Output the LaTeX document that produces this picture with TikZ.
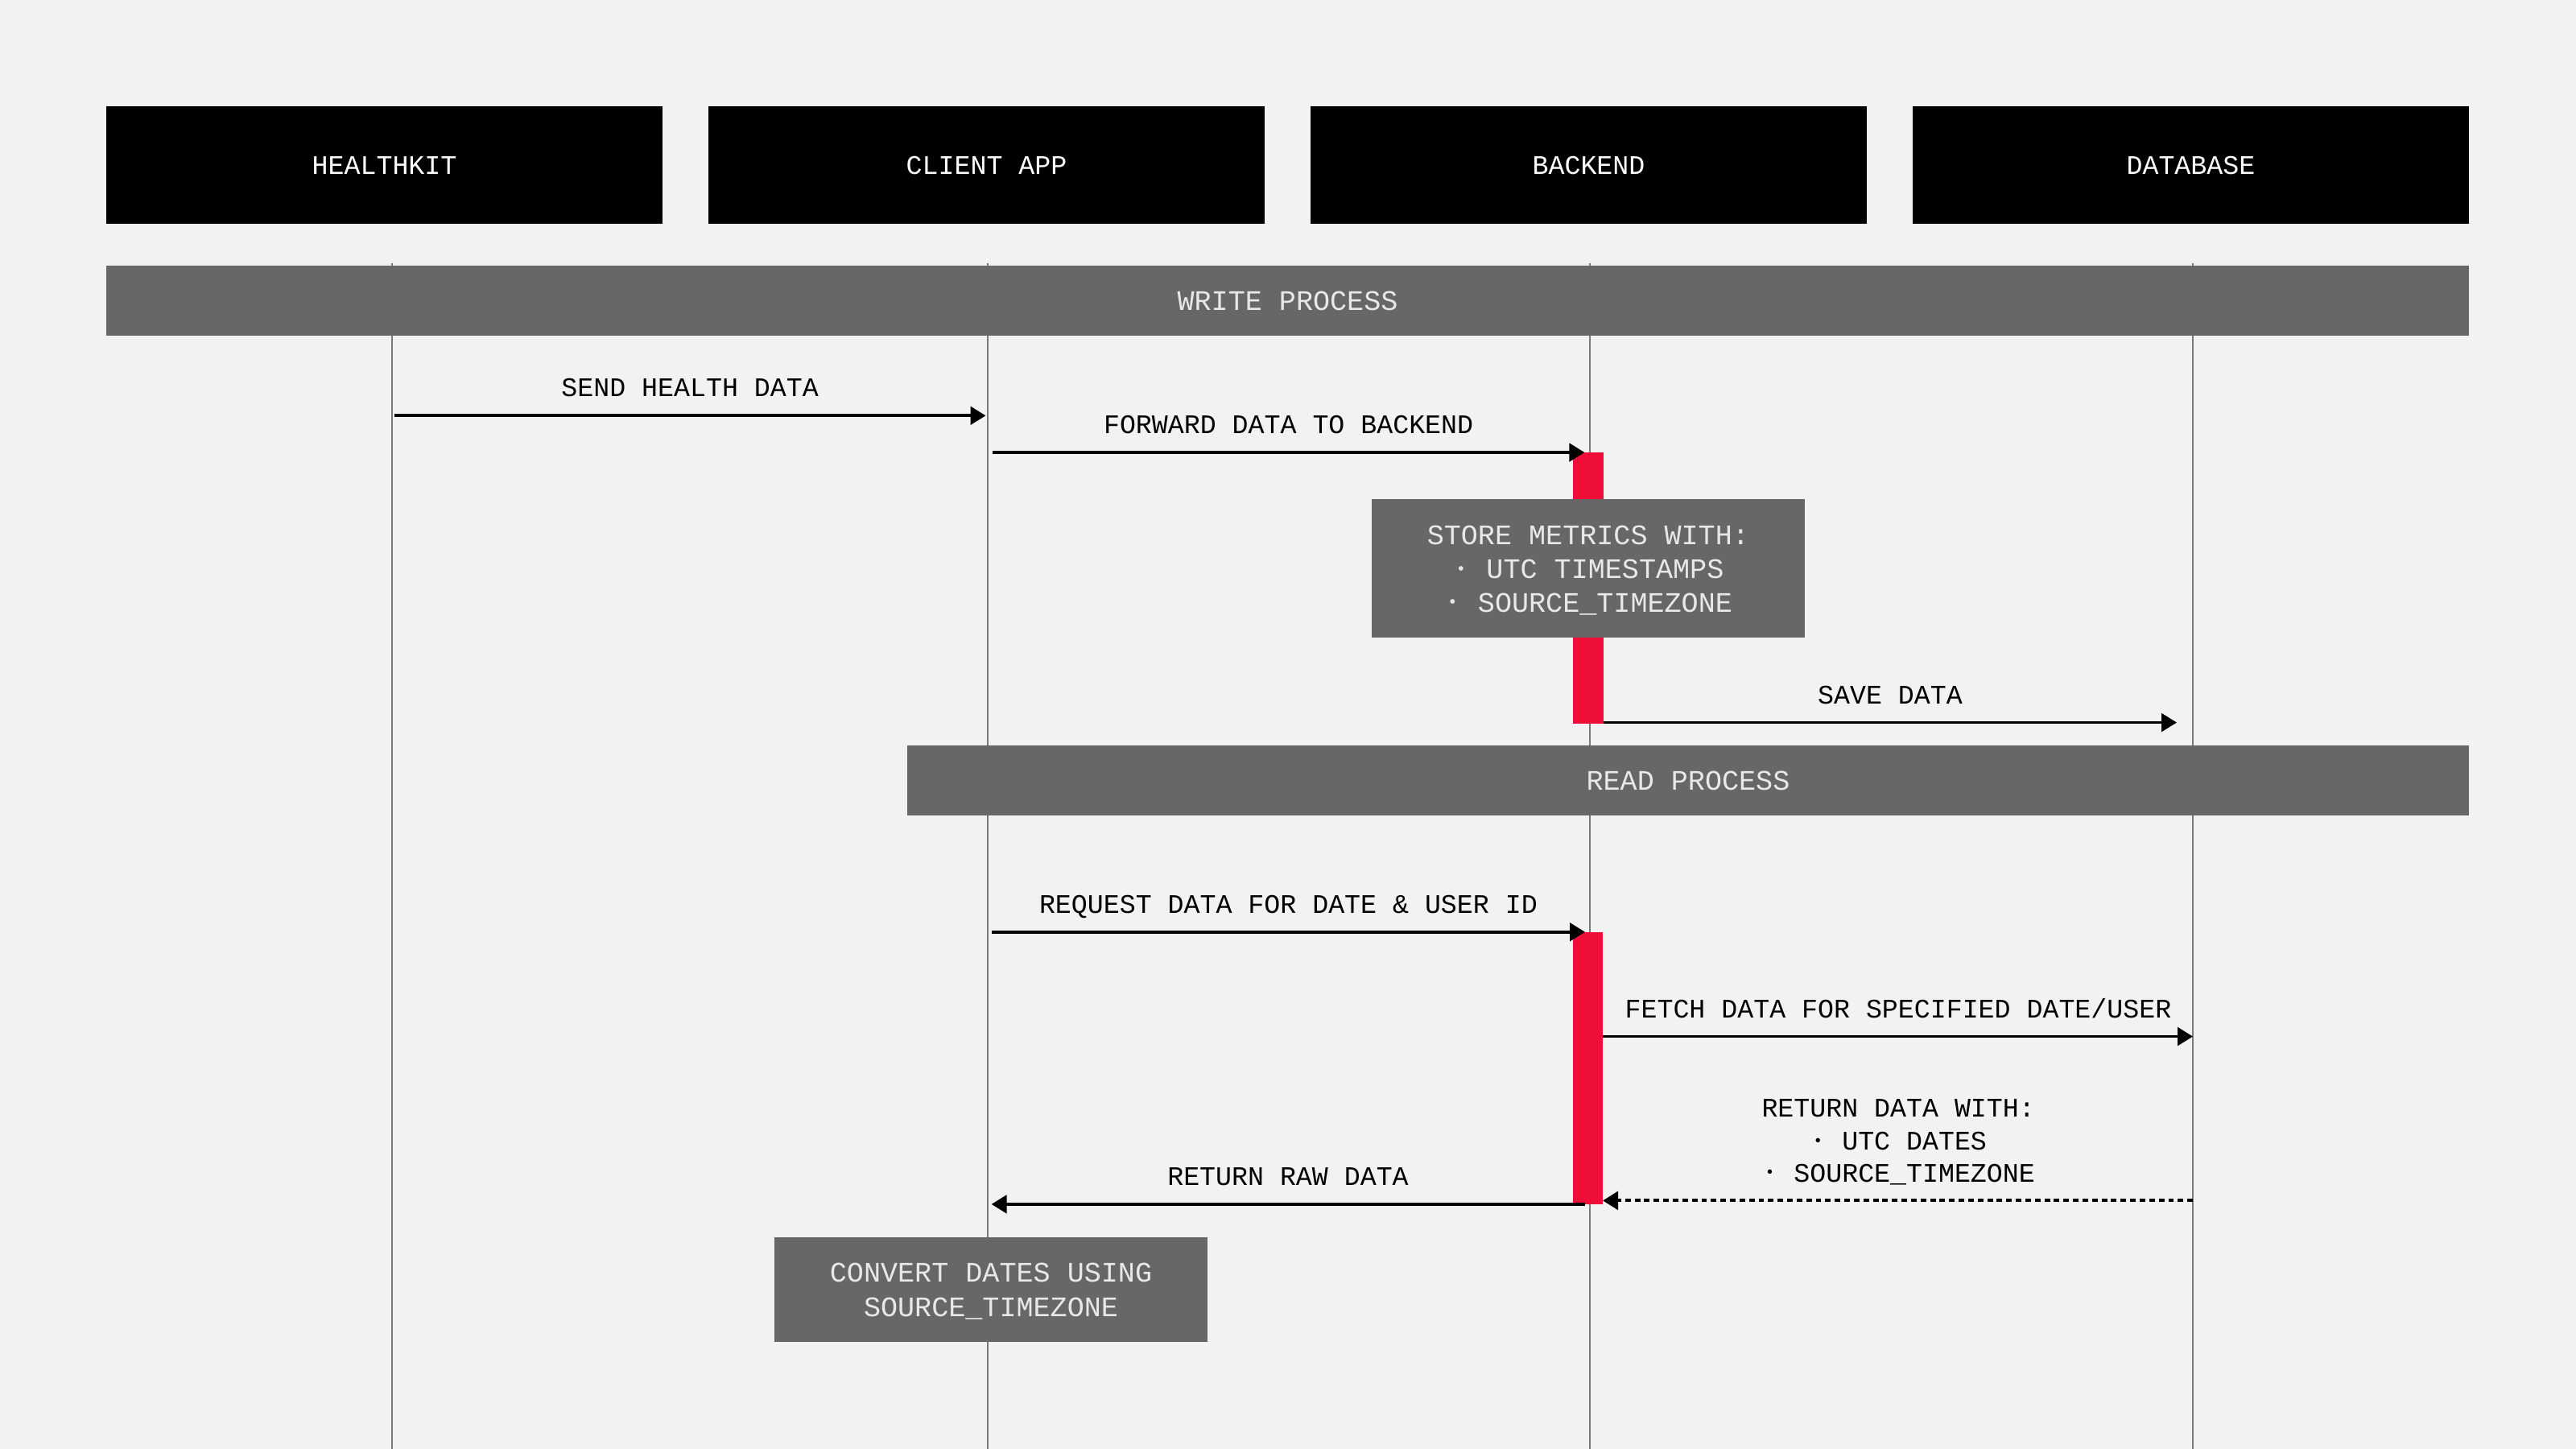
\documentclass[tikz,border=0pt]{standalone}
\usepackage{fontspec}
\usepackage{graphicx}
\setmainfont{Liberation Mono}
\usetikzlibrary{arrows.meta,calc}
\definecolor{bgc}{HTML}{F2F2F2}
\definecolor{barc}{HTML}{676767}
\definecolor{actc}{HTML}{EF0E37}
\definecolor{lifec}{HTML}{7A7A7A}
\definecolor{ltxt}{HTML}{E8E8E8}
\newcommand{\bul}{\makebox[0.6em]{\raisebox{0.16em}{\scalebox{0.6}{•}}}}
\begin{document}
\begin{tikzpicture}[x=1pt,y=-1pt,
  every node/.style={inner sep=0pt,outer sep=0pt},
  txtfont/.style={font=\fontsize{16.3}{20}\selectfont},
  bigfont/.style={font=\fontsize{17.2}{20}\selectfont},
  hdr/.style={txtfont,fill=black,text=white,minimum width=339pt,minimum height=71.6pt,text height=11pt,text depth=0pt},
  phase/.style={bigfont,fill=barc,text=ltxt,minimum height=43pt,text height=11.6pt,text depth=0pt},
  notebox/.style={fill=barc},
  notetxt/.style={bigfont,text=ltxt,anchor=base},
  lbl/.style={txtfont,text=black,anchor=base},
  lifeline/.style={draw=lifec,line width=1pt},
  actbar/.style={fill=actc},
  msg/.style={line width=1.8pt,-{Triangle[length=9.3pt,width=11pt]}},
  ret/.style={line width=2pt,dash pattern=on 3.4pt off 2.4pt,-{Triangle[length=9.3pt,width=11pt]}}
]
\fill[bgc] (0,0) rectangle (1568,882);
\useasboundingbox (0,0) rectangle (1568,882);

% participants
\node[hdr] (hk) at (234,100.5) {HEALTHKIT};
\node[hdr] (app) at (600.5,100.5) {CLIENT APP};
\node[hdr] (be) at (967,100.5) {BACKEND};
\node[hdr] (db) at (1333.5,100.5) {DATABASE};

% lifelines
\coordinate (hkT) at (238.5,160); \coordinate (hkB) at (238.5,882);
\coordinate (appT) at (601,160); \coordinate (appB) at (601,882);
\coordinate (beT) at (967.6,160); \coordinate (beB) at (967.6,882);
\coordinate (dbT) at (1334.8,160); \coordinate (dbB) at (1334.8,882);
\draw[lifeline] (hkT) -- (hkB);
\draw[lifeline] (appT) -- (appB);
\draw[lifeline] (beT) -- (beB);
\draw[lifeline] (dbT) -- (dbB);

% phases
\node[phase,minimum width=1438.5pt] (write) at (783.75,183) {WRITE PROCESS};
\node[phase,minimum width=951pt] (read) at (1027.5,475) {READ PROCESS};

% activation bars
\fill[actc] (957.5,275.4) rectangle (976,440.6);
\fill[actc] (957.4,567.3) rectangle (975.8,733);

% notes
\node[notebox,minimum width=263.6pt,minimum height=84.1pt] (store) at (966.7,345.85) {};
\node[notetxt] (store1) at (966.7,331.4) {STORE METRICS WITH:};
\node[notetxt] (store2) at (966.7,352.2) {\bul{} UTC TIMESTAMPS};
\node[notetxt] (store3) at (966.7,372.6) {\bul{} SOURCE\_TIMEZONE};

\node[notebox,minimum width=263.2pt,minimum height=63.7pt] (conv) at (603.2,784.85) {};
\node[notetxt] (conv1) at (603.2,780.5) {CONVERT DATES USING};
\node[notetxt] (conv2) at (603.2,801.4) {SOURCE\_TIMEZONE};

% messages
\coordinate (m1s) at (240,253); \coordinate (m1e) at (600,253);
\draw[msg] (m1s) -- (m1e);
\node[lbl] (m1l) at (420,241.5) {SEND HEALTH DATA};

\coordinate (m2s) at (604,275.4); \coordinate (m2e) at (964.5,275.4);
\draw[msg] (m2s) -- (m2e);
\node[lbl] (m2l) at (784.3,264) {FORWARD DATA TO BACKEND};

\coordinate (m3s) at (976,439.8); \coordinate (m3e) at (1325,439.8);
\draw[msg] (m3s) -- (m3e);
\node[lbl] (m3l) at (1150.5,428.3) {SAVE DATA};

\coordinate (m4s) at (603.5,567.3); \coordinate (m4e) at (964.8,567.3);
\draw[msg] (m4s) -- (m4e);
\node[lbl] (m4l) at (784.2,556) {REQUEST DATA FOR DATE \& USER ID};

\coordinate (m5s) at (975.8,630.9); \coordinate (m5e) at (1334.8,630.9);
\draw[msg] (m5s) -- (m5e);
\node[lbl] (m5l) at (1155.4,619.6) {FETCH DATA FOR SPECIFIED DATE/USER};

\coordinate (m6s) at (1334.8,730.8); \coordinate (m6e) at (975.6,730.8);
\draw[ret] (m6s) -- (m6e);
\node[lbl] (m6a) at (1155.5,680) {RETURN DATA WITH:};
\node[lbl] (m6b) at (1155.5,700) {\bul{} UTC DATES};
\node[lbl] (m6c) at (1155.5,719.4) {\bul{} SOURCE\_TIMEZONE};

\coordinate (m7s) at (964.8,733); \coordinate (m7e) at (603.5,733);
\draw[msg] (m7s) -- (m7e);
\node[lbl] (m7l) at (784,721.3) {RETURN RAW DATA};
\end{tikzpicture}
\end{document}
